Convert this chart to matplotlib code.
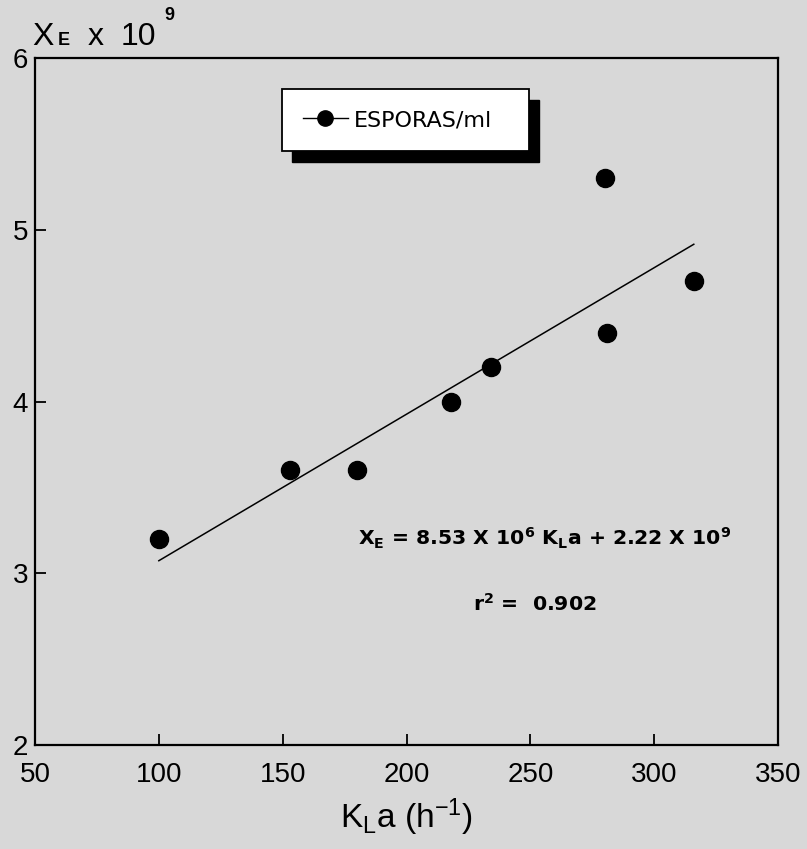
import matplotlib
matplotlib.use("Agg")
import matplotlib.pyplot as plt
from matplotlib.patches import Rectangle
from matplotlib.lines import Line2D
import numpy as np

# Data
kla = [100, 153, 180, 218, 234, 280, 281, 316]
spores = [3.2, 3.6, 3.6, 4.0, 4.2, 5.3, 4.4, 4.7]  # x 10^9
slope = 8.53e6 / 1e9     # per h^-1, in units of 10^9
intercept = 2.22         # in units of 10^9
fit_x = [100, 316]
x_ticks = [50, 100, 150, 200, 250, 300, 350]
y_ticks = [2, 3, 4, 5, 6]

plt.rcParams['font.family'] = ['Liberation Sans', 'DejaVu Sans']
plt.rcParams['mathtext.default'] = 'regular'

bg = '#d8d8d8'
fig = plt.figure(figsize=(8.07, 8.49), dpi=100, facecolor=bg)
ax = fig.add_axes([35/807, 1-745/849, (778-35)/807, (745-58)/849], facecolor=bg)

ax.plot(kla, spores, 'o', color='black', markersize=13, linestyle='none')
fx = np.array(fit_x, dtype=float)
ax.plot(fx, slope*fx + intercept, color='black', lw=1.1)

ax.set_xlim(50, 350)
ax.set_ylim(2, 6)
ax.set_xticks(x_ticks)
ax.set_yticks(y_ticks)
ax.tick_params(axis='both', direction='in', length=8, width=1.3, labelsize=20, colors='black')
ax.tick_params(axis='x', pad=12)
ax.tick_params(axis='y', pad=5)
for s in ax.spines.values():
    s.set_linewidth(1.6)

# Legend with hard black shadow
h = Line2D([], [], color='black', marker='o', markersize=11, lw=1.0)
leg = fig.legend([h], ['ESPORAS/ml'], loc='upper left',
                 bbox_to_anchor=(282/807, 1-151/849, 247/807, 62/849),
                 bbox_transform=fig.transFigure, mode='expand',
                 borderaxespad=0, frameon=True, fancybox=False,
                 prop={'family': 'DejaVu Sans', 'size': 16},
                 edgecolor='black', facecolor='white', framealpha=1,
                 borderpad=0.95, handlelength=2.0, handletextpad=0.3)
leg.get_frame().set_linewidth(1.3)
leg.set_zorder(5)
fig.canvas.draw()
bb = leg.get_window_extent()
shadow = Rectangle((bb.x0 + 10, bb.y0 - 11), bb.width, bb.height,
                   transform=None, facecolor='black', edgecolor='black', zorder=4)
fig.patches.append(shadow)

# Equation annotations
ax.text(180.4, 3.205, r'X$_{E}$ = 8.53 X 10$^{6}$ K$_{L}$a + 2.22 X 10$^{9}$',
        fontsize=14.7, fontweight='bold', family='DejaVu Sans', va='center', ha='left')
ax.text(226.8, 2.82, r'r$^{2}$ =  0.902',
        fontsize=14.7, fontweight='bold', family='DejaVu Sans', va='center', ha='left')

# Y-axis title (top left)
yb = 1 - 45/849
fig.text(32/807, yb, 'X', fontsize=23, ha='left', va='baseline')
fig.text(58/807, yb, 'E', fontsize=13, fontweight='bold', ha='left', va='baseline')
fig.text(88/807, yb, 'x', fontsize=23, ha='left', va='baseline')
fig.text(121/807, yb, '10', fontsize=23, ha='left', va='baseline')
fig.text(164/807, 1 - 20/849, '9', fontsize=13, fontweight='bold', ha='left', va='baseline')

ax.set_xlabel(r'K$_{L}$a (h$^{-1}$)', fontsize=24, labelpad=6)

fig.savefig('out.png', dpi=100, facecolor=bg)
